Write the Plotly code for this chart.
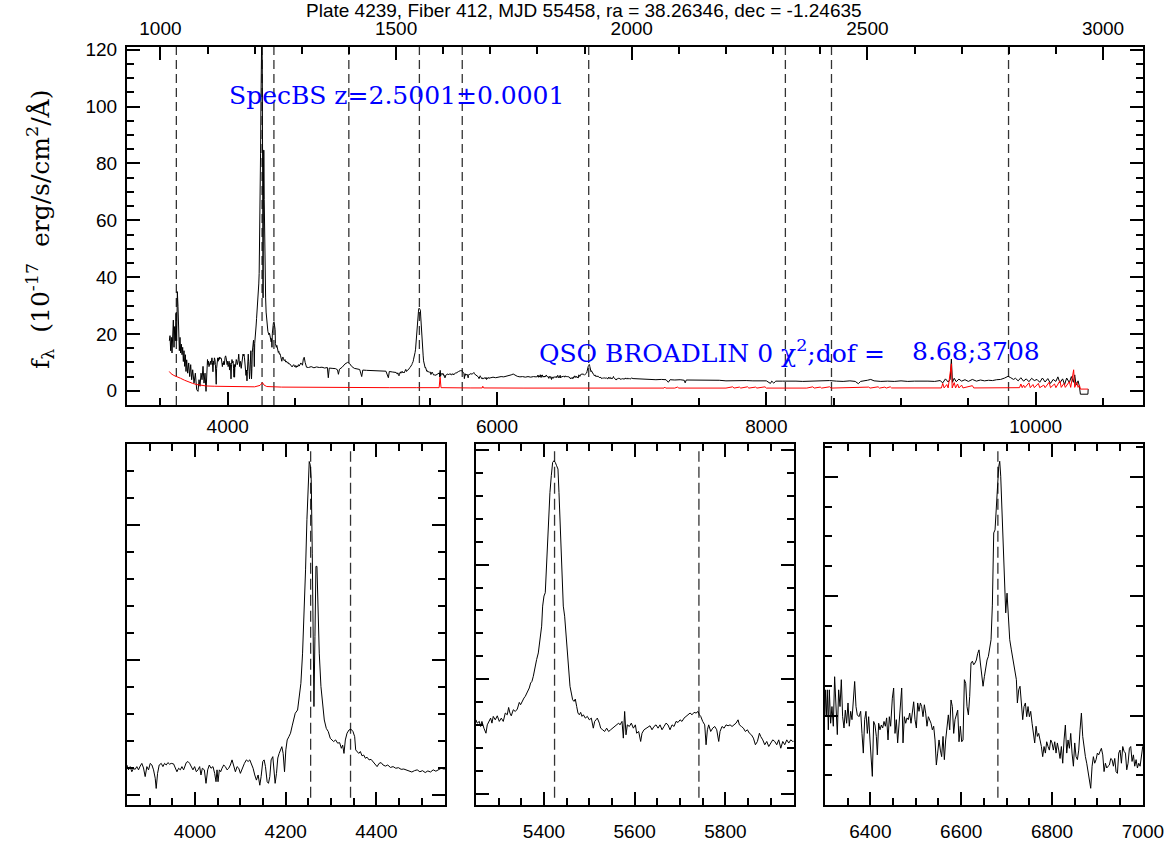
import plotly.graph_objects as go

Z = 2.5001  # pipeline redshift

# ---------------------------------------------------------------
# Spectrum: observed-frame wavelength (Angstrom) and flux
# (1e-17 erg/s/cm^2/A), listed region by region
# ---------------------------------------------------------------
wave_forest = [3566.4, 3571.4, 3576.3, 3581.3, 3586.2, 3591.2, 3596.1, 3601.1, 3606.0, 3611.0,
               3616.0, 3620.9, 3625.9, 3630.8, 3635.8, 3640.7, 3645.7, 3650.6, 3655.6, 3660.5,
               3665.5, 3670.4, 3675.4, 3680.3, 3685.3, 3690.2, 3695.2, 3702.6, 3710.1, 3717.5,
               3724.9, 3732.3, 3739.8, 3749.7, 3759.6, 3769.5, 3779.4, 3786.8, 3794.3, 3801.7,
               3809.1, 3816.6, 3824.0, 3831.4, 3838.8, 3844.0]
flux_forest = [17.6, 19.4, 14.1, 18.8, 13.3, 17.6, 24.9, 15.3, 22.6, 17.6,
               27.3, 17.6, 34.9, 29.6, 23.8, 14.1, 18.8, 13.3, 16.4, 12.7,
               15.3, 10.3, 14.1, 8.6, 12.7, 6.8, 10.9, 6.2, 9.8, 5.0,
               9.2, 3.9, 7.4, 2.7, 6.2, 0.4, -0.2, 3.9, 1.6, 6.2,
               3.9, 8.6, 2.7, 6.2, -0.2, 8.6]

wave_lya = [3849.7, 3853.4, 3857.1, 3860.7, 3864.4, 3868.1, 3871.8, 3875.5, 3879.2, 3882.8,
            3886.5, 3890.2, 3893.9, 3897.6, 3901.3, 3905.0, 3908.6, 3912.3, 3914.5, 3917.5,
            3921.1, 3925.6, 3929.3, 3932.9, 3936.6, 3940.3, 3944.0, 3947.7, 3952.8, 3956.5,
            3960.2, 3963.9, 3967.6, 3971.2, 3974.9, 3980.8, 3984.5, 3988.2, 3991.9, 3995.5,
            3999.2, 4002.9, 4006.6, 4010.3, 4013.2, 4016.2, 4020.6, 4024.3, 4028.0, 4031.6,
            4035.3, 4039.7, 4043.4, 4046.4, 4048.6, 4050.8, 4053.7, 4056.7, 4059.6, 4063.3,
            4067.0, 4070.7, 4074.4, 4078.0, 4081.7, 4085.4, 4089.1, 4092.8, 4096.5, 4100.1,
            4103.8, 4109.0, 4113.4, 4117.1, 4120.8, 4124.4, 4128.1, 4131.8, 4135.5, 4139.2,
            4142.9, 4145.8, 4149.5, 4152.4, 4155.4, 4159.1, 4162.0, 4165.0, 4167.9, 4171.6,
            4173.8, 4176.7, 4179.7, 4182.6, 4185.6, 4188.5, 4191.5, 4194.4, 4197.4, 4200.3,
            4203.3, 4207.0, 4210.6, 4214.3, 4221.0, 4226.2, 4230.6, 4233.5, 4237.2, 4240.9,
            4243.8, 4246.8, 4249.7, 4251.9, 4254.1, 4256.3, 4258.6, 4260.8, 4262.3, 4264.5,
            4266.7, 4268.9, 4271.1, 4274.0, 4277.7, 4281.4, 4285.1, 4289.5, 4293.9, 4298.3,
            4302.0, 4305.7, 4310.1, 4314.5, 4318.9, 4322.7, 4325.6, 4328.5, 4331.5, 4335.2,
            4339.6, 4344.0, 4348.4, 4352.1, 4354.3, 4357.3, 4361.0, 4364.6, 4368.3, 4372.0,
            4375.7, 4379.4, 4383.8, 4388.2, 4392.6, 4397.1, 4401.5, 4405.9, 4410.3, 4414.7,
            4419.9, 4425.0, 4430.9, 4436.8, 4442.7, 4448.6, 4454.5, 4460.4, 4466.3, 4472.2,
            4478.1, 4484.0, 4489.9, 4495.8, 4501.7, 4507.6, 4513.4, 4519.3, 4525.2, 4531.1,
            4537.0, 4542.9, 4548.8]
flux_lya = [11.0, 9.2, 10.4, 8.5, 9.7, 9.4, 10.4, 9.2, 10.6, 11.6,
            9.9, 6.7, 10.4, 9.2, 11.6, 11.0, 9.2, 6.1, 2.3, 7.9,
            11.0, 11.6, 10.4, 11.6, 11.0, 11.9, 11.3, 11.6, 11.4, 9.8,
            8.5, 9.8, 9.2, 10.4, 9.2, 11.9, 12.3, 11.6, 10.4, 9.2,
            10.4, 8.5, 9.2, 10.4, 7.3, 9.8, 9.2, 4.2, 9.2, 11.0,
            9.8, 10.4, 7.9, 4.8, 9.2, 4.8, 9.2, 8.5, 9.8, 11.0,
            10.4, 9.2, 9.8, 11.0, 12.9, 10.4, 8.5, 10.4, 9.8, 7.9,
            9.8, 11.6, 12.9, 12.3, 12.9, 11.6, 9.8, 7.3, 5.4, 7.3,
            3.5, 6.7, 12.3, 12.9, 10.4, 4.8, 4.2, 6.7, 12.9, 14.1,
            9.2, 4.2, 7.9, 13.6, 15.3, 16.6, 17.8, 15.3, 8.5, 16.6,
            20.3, 21.5, 22.8, 25.5, 30.2, 31.4, 37.6, 41.3, 52.5, 68.6,
            83.4, 102.0, 119.3, 123.6, 122.4, 116.8, 89.6, 58.7, 32.7, 58.7,
            84.7, 84.7, 67.3, 52.5, 40.1, 32.7, 27.7, 24.6, 23.4, 20.9,
            20.3, 19.7, 20.3, 19.1, 19.3, 17.2, 18.4, 15.3, 20.3, 22.8,
            24.0, 24.3, 23.4, 21.5, 16.6, 16.0, 15.3, 16.0, 14.4, 14.7,
            13.5, 13.9, 12.9, 13.1, 12.3, 11.6, 10.4, 11.6, 11.9, 11.0,
            10.6, 11.0, 10.1, 10.4, 9.8, 10.0, 9.4, 9.5, 9.2, 8.9,
            8.4, 8.9, 9.2, 8.5, 8.9, 8.2, 8.8, 8.4, 9.2, 8.7,
            9.2, 9.8, 9.5]

wave_siiv = [4555, 4562, 4568, 4575, 4585, 4600, 4620, 4640, 4660, 4680,
             4700, 4720, 4740, 4747, 4754, 4775, 4800, 4815, 4822, 4830,
             4850, 4870, 4890, 4905, 4920, 4940, 4960, 4980, 4995, 5003,
             5030, 5060, 5090, 5120, 5150, 5175, 5193, 5200, 5225, 5245]
flux_siiv = [9.0, 11.3, 11.8, 10.0, 8.3, 8.2, 8.5, 8.1, 8.4, 8.2,
             8.3, 8.0, 8.2, 4.6, 8.0, 7.9, 7.8, 7.4, 5.8, 7.6,
             8.3, 9.4, 10.0, 9.6, 8.6, 7.9, 7.6, 7.5, 5.0, 7.3,
             7.2, 7.1, 7.0, 7.0, 6.9, 6.9, 4.6, 6.8, 6.6, 6.5]

wave_civ = [5250.0, 5252.9, 5257.4, 5260.3, 5263.2, 5267.6, 5272.1, 5275.0, 5279.4, 5282.4,
            5285.3, 5288.2, 5292.6, 5297.1, 5301.5, 5305.9, 5310.3, 5314.7, 5319.1, 5322.1,
            5325.0, 5327.9, 5332.4, 5336.8, 5341.2, 5345.6, 5348.5, 5352.9, 5355.9, 5358.8,
            5361.8, 5365.4, 5367.6, 5370.6, 5373.5, 5376.5, 5380.1, 5383.8, 5387.5, 5391.2,
            5394.9, 5397.1, 5400.0, 5402.9, 5404.4, 5407.4, 5410.3, 5413.2, 5416.2, 5419.1,
            5422.1, 5425.0, 5427.9, 5430.9, 5433.1, 5435.3, 5437.5, 5439.7, 5442.6, 5445.6,
            5448.5, 5451.5, 5454.4, 5457.4, 5460.3, 5463.2, 5466.2, 5469.1, 5472.1, 5475.0,
            5477.9, 5480.9, 5483.8, 5486.8, 5491.2, 5495.6, 5500.0, 5504.4, 5508.8, 5511.8,
            5514.7, 5517.6, 5522.1, 5525.0, 5529.4, 5533.8, 5538.2, 5542.6, 5547.1, 5551.5,
            5555.9, 5560.3, 5564.7, 5567.6, 5572.1, 5575.0, 5577.9, 5580.9, 5583.8, 5588.2,
            5592.6, 5597.1, 5601.5, 5604.4, 5608.8, 5613.2, 5616.2, 5620.6, 5625.0, 5629.4,
            5633.8, 5638.2, 5642.6, 5647.1, 5651.5, 5655.9, 5660.3, 5664.7, 5669.1, 5673.5,
            5677.9, 5682.4, 5686.8, 5691.2, 5695.6, 5700.0, 5704.4, 5708.8, 5713.2, 5717.6,
            5722.1, 5726.5, 5730.9, 5735.3, 5739.7, 5742.6, 5745.6, 5750.0, 5754.4, 5757.4,
            5760.3, 5763.2, 5767.6, 5772.1, 5776.5, 5780.9, 5785.3, 5788.2, 5792.6, 5797.1,
            5801.5, 5805.9, 5810.3, 5814.7, 5819.1, 5823.5, 5827.9, 5830.9, 5835.3, 5839.7,
            5844.1, 5848.5, 5852.9, 5857.4, 5861.8, 5866.2, 5870.6, 5875.0, 5877.9, 5882.4,
            5886.8, 5891.2, 5895.6, 5900.0, 5904.4, 5908.8, 5913.2, 5917.6, 5922.1, 5926.5,
            5930.9, 5935.3, 5939.7, 5944.1, 5948.5]
flux_civ = [6.45, 6.16, 6.31, 5.87, 6.31, 5.72, 5.28, 6.01, 6.31, 6.60,
            6.16, 6.75, 6.45, 6.80, 6.31, 6.60, 6.31, 7.04, 6.89, 7.53,
            7.04, 6.80, 7.33, 7.18, 7.39, 7.97, 7.77, 8.20, 8.35, 8.50,
            8.73, 8.93, 9.23, 9.66, 9.81, 10.25, 11.12, 11.71, 12.29, 13.46,
            14.63, 16.38, 17.26, 17.55, 19.01, 22.22, 24.26, 26.31, 27.77, 28.93,
            29.08, 28.93, 28.64, 28.35, 26.31, 23.97, 21.63, 19.30, 16.38, 15.50,
            14.04, 12.29, 10.54, 9.37, 8.79, 8.20, 8.06, 8.26, 7.62, 7.04,
            6.89, 7.10, 6.75, 6.89, 6.60, 6.75, 6.45, 6.60, 5.72, 6.31,
            6.45, 6.60, 6.16, 5.72, 5.58, 5.43, 5.72, 5.43, 5.58, 5.72,
            5.87, 6.01, 6.16, 6.01, 6.31, 4.85, 7.18, 5.14, 6.01, 5.87,
            6.16, 5.72, 6.01, 5.28, 5.43, 4.56, 5.28, 5.58, 5.72, 5.87,
            5.93, 5.58, 5.87, 6.01, 5.72, 6.01, 5.58, 5.87, 6.16, 6.01,
            5.58, 6.01, 5.87, 6.31, 6.22, 6.45, 6.31, 6.60, 6.75, 6.89,
            7.04, 6.89, 7.10, 7.04, 7.18, 6.89, 6.75, 6.31, 6.01, 4.27,
            5.58, 6.01, 5.43, 5.72, 5.87, 5.58, 4.56, 5.43, 5.87, 5.72,
            6.01, 5.93, 6.01, 5.87, 6.01, 6.16, 6.45, 6.01, 5.87, 5.72,
            5.43, 5.58, 5.28, 5.14, 4.85, 4.27, 4.56, 5.28, 4.99, 4.70,
            4.27, 4.56, 4.12, 4.42, 4.70, 4.56, 4.27, 4.70, 3.97, 4.56,
            4.27, 4.70, 4.42, 4.70, 4.56]

wave_gap = [5955, 5970, 5990, 6010, 6030, 6050, 6070, 6090, 6105, 6120,
            6135, 6150, 6170, 6190, 6210, 6230, 6250, 6270, 6290]
flux_gap = [4.6, 4.8, 4.6, 4.9, 5.0, 4.9, 5.1, 5.2, 5.6, 5.9,
            5.4, 5.1, 4.9, 5.0, 4.8, 5.0, 4.8, 5.0, 4.9]

wave_ciii = [6299.4, 6300.9, 6303.1, 6305.3, 6307.5, 6309.7, 6312.6, 6315.5, 6318.5, 6321.4,
             6324.4, 6327.3, 6330.2, 6333.2, 6336.1, 6339.0, 6342.0, 6344.9, 6347.8, 6350.8,
             6353.7, 6356.7, 6359.6, 6362.5, 6365.5, 6368.4, 6371.3, 6375.0, 6378.7, 6381.6,
             6384.5, 6387.5, 6390.4, 6393.4, 6396.3, 6399.2, 6402.2, 6404.4, 6407.3, 6410.2,
             6413.2, 6415.4, 6418.3, 6421.2, 6424.2, 6427.1, 6430.1, 6433.0, 6435.9, 6438.9,
             6441.8, 6444.7, 6448.4, 6451.3, 6454.3, 6457.2, 6460.1, 6463.1, 6466.0, 6469.0,
             6471.9, 6474.8, 6477.8, 6480.7, 6483.6, 6486.6, 6489.5, 6492.4, 6495.4, 6498.3,
             6501.3, 6504.2, 6507.1, 6510.1, 6513.0, 6515.9, 6518.9, 6521.8, 6524.7, 6527.7,
             6530.6, 6533.5, 6536.5, 6539.4, 6542.4, 6545.3, 6548.2, 6551.2, 6554.1, 6557.0,
             6560.0, 6562.9, 6565.8, 6568.8, 6571.7, 6574.7, 6577.6, 6580.5, 6583.5, 6586.4,
             6589.3, 6592.3, 6595.2, 6598.1, 6601.1, 6604.0, 6607.0, 6609.9, 6612.8, 6615.8,
             6618.7, 6621.6, 6624.6, 6627.5, 6630.4, 6633.4, 6636.3, 6639.2, 6642.2, 6645.1,
             6648.1, 6651.0, 6653.9, 6656.9, 6659.8, 6662.7, 6665.7, 6668.6, 6671.6, 6674.5,
             6677.4, 6680.4, 6682.6, 6684.8, 6687.0, 6689.2, 6692.1, 6695.0, 6698.0, 6700.9,
             6703.9, 6706.8, 6710.4, 6714.1, 6717.8, 6721.5, 6723.7, 6726.6, 6729.5, 6732.5,
             6735.4, 6738.3, 6741.3, 6744.2, 6747.1, 6750.1, 6753.0, 6756.0, 6758.9, 6761.8,
             6764.8, 6767.7, 6770.6, 6773.6, 6776.5, 6779.4, 6782.4, 6785.3, 6788.2, 6791.2,
             6794.1, 6797.1, 6800.0, 6802.9, 6805.9, 6808.8, 6811.7, 6814.7, 6817.6, 6820.5,
             6823.5, 6826.4, 6829.3, 6832.3, 6835.2, 6838.2, 6841.1, 6844.0, 6847.0, 6849.9,
             6852.8, 6855.8, 6858.7, 6861.6, 6864.6, 6867.5, 6870.5, 6873.4, 6876.3, 6879.3,
             6882.2, 6885.1, 6888.1, 6891.0, 6893.9, 6896.9, 6899.8, 6902.7, 6905.7, 6908.6,
             6911.6, 6914.5, 6917.4, 6920.4, 6923.3, 6926.2, 6929.2, 6932.1, 6935.0, 6938.0,
             6940.9, 6943.9, 6946.8, 6949.7, 6952.7, 6955.6, 6958.5, 6961.5, 6964.4, 6967.3,
             6970.3, 6973.2, 6976.1, 6979.1, 6982.0, 6985.0, 6987.9, 6990.8, 6993.8, 6996.7,
             6999.6]
flux_ciii = [4.98, 5.43, 4.98, 5.43, 4.76, 5.43, 4.87, 5.15, 4.82, 5.65,
             5.15, 4.68, 5.43, 5.15, 5.60, 4.98, 4.79, 5.09, 4.87, 5.21,
             4.82, 5.07, 4.93, 5.18, 5.57, 5.15, 5.01, 4.98, 5.07, 4.70,
             4.37, 4.93, 5.07, 4.70, 4.98, 4.59, 4.31, 3.98, 4.90, 4.84,
             4.65, 4.34, 4.87, 4.76, 4.84, 4.79, 4.90, 4.82, 4.96, 4.59,
             4.98, 4.82, 5.29, 5.46, 4.70, 4.93, 4.54, 4.87, 5.07, 5.46,
             4.54, 4.98, 4.87, 4.96, 4.93, 5.04, 4.87, 5.07, 5.23, 4.93,
             4.79, 5.21, 5.07, 5.21, 5.15, 4.98, 5.18, 5.04, 4.82, 4.98,
             4.93, 4.87, 4.76, 4.82, 4.59, 4.17, 4.37, 4.59, 4.42, 4.31,
             4.65, 4.26, 4.59, 4.82, 5.01, 4.76, 5.26, 5.15, 4.70, 4.93,
             5.04, 5.09, 4.56, 4.82, 4.56, 4.59, 5.60, 5.54, 5.15, 5.01,
             5.32, 5.88, 5.91, 5.85, 5.88, 5.93, 6.04, 6.10, 5.88, 5.65,
             5.49, 5.65, 5.79, 5.93, 5.99, 6.18, 6.27, 6.85, 8.06, 8.11,
             8.61, 8.89, 9.17, 9.26, 9.01, 8.50, 7.72, 7.08, 6.72, 7.05,
             6.66, 6.27, 6.10, 5.93, 5.82, 5.60, 5.21, 5.43, 5.49, 5.26,
             4.93, 5.15, 5.21, 4.98, 5.15, 4.98, 5.07, 4.87, 4.70, 4.54,
             4.82, 4.65, 4.70, 4.59, 4.48, 4.31, 4.48, 4.37, 4.56, 4.48,
             4.42, 4.59, 4.54, 4.42, 4.56, 4.37, 4.54, 4.42, 4.28, 4.48,
             4.20, 4.59, 4.84, 4.37, 4.59, 4.45, 4.70, 4.37, 4.15, 4.54,
             4.31, 4.26, 4.42, 4.76, 5.04, 4.65, 4.42, 4.31, 4.20, 4.03,
             3.87, 3.78, 4.15, 4.31, 4.20, 4.26, 4.37, 4.34, 4.40, 4.45,
             4.34, 4.06, 4.20, 4.12, 4.15, 4.17, 4.28, 4.26, 4.15, 4.28,
             4.06, 4.03, 4.37, 4.42, 4.20, 4.48, 4.40, 4.37, 4.09, 4.20,
             4.45, 4.48, 4.23, 4.34, 4.15, 4.26, 4.12, 4.20, 4.15, 4.37,
             4.48]

wave_red = [7010, 7040, 7070, 7100, 7140, 7180, 7220, 7255, 7272, 7285,
            7320, 7360, 7390, 7397, 7405, 7450, 7500, 7550, 7600, 7650,
            7700, 7750, 7800, 7850, 7900, 7950, 8000, 8030, 8040, 8055,
            8070, 8120, 8170, 8220, 8270, 8320, 8370, 8420, 8470, 8520,
            8570, 8620, 8660, 8683, 8700, 8750, 8775, 8800, 8850, 8900,
            8950, 9000, 9050, 9100, 9150, 9200, 9250, 9290, 9310, 9330,
            9350, 9365, 9374, 9382, 9395, 9410, 9430, 9450, 9475, 9500,
            9530, 9560, 9590, 9620, 9650, 9680, 9710, 9740, 9770, 9795,
            9815, 9835, 9850, 9870, 9890, 9910, 9930, 9950, 9970, 9990,
            10010, 10030, 10050, 10070, 10090, 10110, 10130, 10150, 10165, 10180,
            10200, 10215, 10230, 10250, 10265, 10280, 10290, 10300, 10315, 10325,
            10332, 10388, 10390]
flux_red = [4.3, 4.2, 4.1, 4.0, 4.1, 3.9, 4.0, 3.9, 3.0, 3.9,
            3.8, 3.9, 3.7, 2.8, 3.8, 3.8, 3.7, 3.8, 3.6, 3.7,
            3.5, 3.6, 3.5, 3.6, 3.5, 3.4, 3.5, 2.6, 3.4, 2.7,
            3.4, 3.4, 3.5, 3.4, 3.3, 3.4, 3.3, 3.5, 3.6, 3.4,
            3.3, 3.5, 3.3, 2.5, 3.3, 3.7, 4.0, 3.5, 3.3, 3.4,
            3.3, 3.5, 3.3, 3.4, 3.5, 3.4, 3.3, 3.6, 2.8, 4.2,
            3.1, 4.0, 11.2, 3.0, 4.4, 3.2, 4.1, 3.4, 3.9, 3.3,
            4.0, 3.4, 3.8, 3.5, 3.7, 3.6, 3.9, 4.0, 4.5, 5.1,
            4.6, 4.0, 4.4, 3.5, 4.6, 3.4, 4.2, 3.2, 4.4, 3.6,
            4.0, 3.0, 4.5, 3.1, 4.3, 2.6, 4.0, 3.3, 4.9, 2.8,
            4.2, 2.2, 4.5, 2.9, 5.0, 3.0, 5.6, 2.0, 3.5, 1.5,
            -1.2, -1.2, 0.6]

wave = wave_forest + wave_lya + wave_siiv + wave_civ + wave_gap + wave_ciii + wave_red
flux = flux_forest + flux_lya + flux_siiv + flux_civ + flux_gap + flux_ciii + flux_red

# Flux uncertainty (same units)
err_wave = [3566, 3580, 3600, 3625, 3650, 3680, 3710, 3740, 3770, 3800,
            3840, 3900, 4000, 4100, 4200, 4240, 4258, 4270, 4290, 4400,
            4600, 4800, 5000, 5200, 5400, 5570, 5577, 5584, 5800, 5890,
            5894, 5900, 6200, 6600, 7000, 7240, 7246, 7252, 7320, 7340,
            7350, 7600, 7620, 7630, 7700, 7750, 7760, 7800, 7810, 7860,
            7870, 7920, 7930, 7990, 8000, 8300, 8345, 8355, 8400, 8410,
            8470, 8480, 8760, 8770, 8830, 8840, 8880, 8890, 8920, 8930,
            9300, 9310, 9320, 9340, 9350, 9374, 9380, 9395, 9405, 9420,
            9430, 9450, 9460, 9530, 9540, 9880, 9890, 9900, 9910, 9920,
            9950, 9960, 9980, 9990, 10020, 10030, 10060, 10070, 10100, 10110,
            10140, 10150, 10180, 10190, 10210, 10220, 10250, 10260, 10282, 10290,
            10305, 10315, 10325, 10332, 10390]
err_flux = [6.8, 6.0, 5.4, 5.0, 4.4, 3.7, 3.1, 2.6, 2.2, 1.9,
            1.7, 1.6, 1.5, 1.4, 1.4, 1.9, 2.9, 2.0, 1.5, 1.3,
            1.2, 1.2, 1.1, 1.1, 1.1, 1.1, 4.8, 1.1, 1.0, 1.0,
            1.6, 1.0, 0.95, 0.9, 0.9, 0.95, 1.3, 0.95, 0.95, 1.3,
            0.95, 0.95, 1.2, 0.95, 0.95, 1.4, 0.95, 1.3, 0.95, 1.4,
            0.95, 1.3, 0.95, 1.4, 0.95, 0.95, 1.4, 0.95, 1.3, 0.95,
            1.4, 0.95, 1.3, 0.95, 1.4, 0.95, 1.3, 0.95, 1.4, 1.0,
            1.0, 2.6, 1.0, 2.2, 1.0, 9.5, 1.0, 2.9, 1.0, 2.4,
            1.0, 2.0, 1.0, 1.8, 1.0, 1.1, 2.4, 1.1, 2.0, 1.1,
            2.8, 1.1, 2.2, 1.1, 2.6, 1.1, 2.0, 1.1, 3.0, 1.1,
            2.4, 1.1, 3.5, 1.2, 2.6, 1.2, 3.2, 1.2, 7.4, 1.2,
            3.0, 1.2, 2.0, 0.6, 0.6]

# Rest-frame wavelengths of the marked emission lines (Angstrom)
line_rest = [1033.82, 1215.67, 1240.81, 1399.8, 1549.48, 1640.42, 1908.73, 2326.0, 2423.83, 2799.49]

# Rest-frame windows of the three close-up panels and their flux ranges
zoom_rest = [(1100, 1300), (1500, 1700), (1800, 2000)]
zoom_yrange = [(-3.84, 130.1), (-0.99, 30.54), (3.50, 9.55)]
zoom_ytick = [(0, 50, 10), (0, 10, 2), (1, 2, 0.5)]

title_text = "Plate 4239, Fiber 412, MJD 55458, ra = 38.26346, dec = -1.24635"
z_text = "SpecBS z=2.5001\u00b10.0001"
class_text = "QSO BROADLIN 0 \u03c7<sup>2</sup>;dof ="
chi_text = "8.68;3708"
ylabel_text = ("f<sub>\u03bb</sub>\u00a0 (10<sup>-17</sup>\u00a0 "
               "erg/s/cm<sup>2</sup>/\u00c5)")

# ---------------------------------------------------------------
W, H = 1172, 846
def px(x):
    return x / W
def py(y):
    return 1 - y / H

TICKFONT = dict(family="Liberation Sans, Arial, sans-serif", size=19, color="black")
SERIF = "DejaVu Serif, serif"
DASH = "9px,5px"

top_xdom = [px(127), px(1143)]
top_ydom = [py(405), py(47)]
bot_ydom = [py(805), py(444)]
bot_xdoms = [[px(127), px(444.5)], [px(476), px(793.5)], [px(825), px(1143)]]

obs_range = [3252, 10797]
fig = go.Figure()

# Overview spectrum and its error
fig.add_trace(go.Scatter(x=wave, y=flux, mode="lines", line=dict(color="black", width=1),
                         xaxis="x", yaxis="y", hoverinfo="skip", showlegend=False))
fig.add_trace(go.Scatter(x=err_wave, y=err_flux, mode="lines", line=dict(color="red", width=1),
                         xaxis="x", yaxis="y", hoverinfo="skip", showlegend=False))
# placeholder so the rest-frame axis gets its own subplot
fig.add_trace(go.Scatter(x=[], y=[], xaxis="x2", yaxis="y", showlegend=False))

# Close-up panels
for i in range(3):
    fig.add_trace(go.Scatter(x=wave, y=flux, mode="lines", line=dict(color="black", width=1),
                             xaxis=f"x{i + 3}", yaxis=f"y{i + 3}", hoverinfo="skip",
                             showlegend=False))

frame = dict(showline=True, linecolor="black", linewidth=2, showgrid=False, zeroline=False,
             ticks="inside", tickcolor="black", tickwidth=1.5, ticklen=13, automargin=False,
             tickfont=TICKFONT, exponentformat="none", separatethousands=False)

layout = dict(
    width=W, height=H, margin=dict(l=0, r=0, t=0, b=0, autoexpand=False),
    paper_bgcolor="white", plot_bgcolor="white", showlegend=False,
    xaxis=dict(frame, domain=top_xdom, anchor="y", range=obs_range, tick0=0, dtick=2000,
               tickformat="d", ticklabelstandoff=3,
               minor=dict(ticks="inside", ticklen=7, dtick=500, tickcolor="black", tickwidth=1.5)),
    xaxis2=dict(frame, overlaying="x", side="top", anchor="y",
                range=[obs_range[0] / (1 + Z), obs_range[1] / (1 + Z)], tick0=0, dtick=500,
                tickformat="d", ticklabelstandoff=2,
                minor=dict(ticks="inside", ticklen=7, dtick=100, tickcolor="black", tickwidth=1.5)),
    yaxis=dict(frame, domain=top_ydom, anchor="x", range=[-5, 121], tick0=0, dtick=20,
               mirror="ticks", ticklabelstandoff=4,
               minor=dict(ticks="inside", ticklen=7, dtick=5, tickcolor="black", tickwidth=1.5)),
)

for i in range(3):
    lo, hi = zoom_rest[i]
    t0, dt, mdt = zoom_ytick[i]
    layout[f"xaxis{i + 3}"] = dict(frame, domain=bot_xdoms[i], anchor=f"y{i + 3}",
                                   range=[lo * (1 + Z), hi * (1 + Z)], tick0=0, dtick=200,
                                   mirror="ticks", tickformat="d", ticklabelstandoff=8,
                                   minor=dict(ticks="inside", ticklen=7, dtick=50,
                                              tickcolor="black", tickwidth=1.5))
    layout[f"yaxis{i + 3}"] = dict(frame, domain=bot_ydom, anchor=f"x{i + 3}",
                                   range=list(zoom_yrange[i]), tick0=t0, dtick=dt,
                                   mirror="ticks", showticklabels=False,
                                   minor=dict(ticks="inside", ticklen=7, dtick=mdt,
                                              tickcolor="black", tickwidth=1.5))

fig.update_layout(**layout)

# Emission-line markers
shapes = []
for lr in line_rest:
    lo = lr * (1 + Z)
    shapes.append(dict(type="line", xref="x", yref="y domain", x0=lo, x1=lo, y0=0, y1=1,
                       line=dict(color="#333333", width=1.3, dash=DASH), layer="below"))
    for i in range(3):
        a, b = zoom_rest[i]
        if a < lr < b:
            shapes.append(dict(type="line", xref=f"x{i + 3}", yref=f"y{i + 3} domain",
                               x0=lo, x1=lo, y0=0.02, y1=0.98,
                               line=dict(color="#333333", width=1.3, dash="11px,5px"),
                               layer="below"))
fig.update_layout(shapes=shapes)

annotations = [
    dict(text=title_text, x=px(584), y=py(11), xref="paper", yref="paper",
         xanchor="center", yanchor="middle", showarrow=False,
         font=dict(family="Liberation Sans, Arial, sans-serif", size=19, color="black")),
    dict(text=z_text, x=px(227), y=py(95), xref="paper", yref="paper",
         xanchor="left", yanchor="middle", showarrow=False,
         font=dict(family=SERIF, size=25, color="blue")),
    dict(text=class_text, x=px(537), y=py(351), xref="paper", yref="paper",
         xanchor="left", yanchor="middle", showarrow=False,
         font=dict(family=SERIF, size=25, color="blue")),
    dict(text=chi_text, x=px(910), y=py(351), xref="paper", yref="paper",
         xanchor="left", yanchor="middle", showarrow=False,
         font=dict(family=SERIF, size=25, color="blue")),
    dict(text=ylabel_text,
         x=px(40), y=py(230), xref="paper", yref="paper", textangle=-90,
         xanchor="center", yanchor="middle", showarrow=False,
         font=dict(family=SERIF, size=25, color="black")),
]
fig.update_layout(annotations=annotations)

fig.write_html("out.html")
